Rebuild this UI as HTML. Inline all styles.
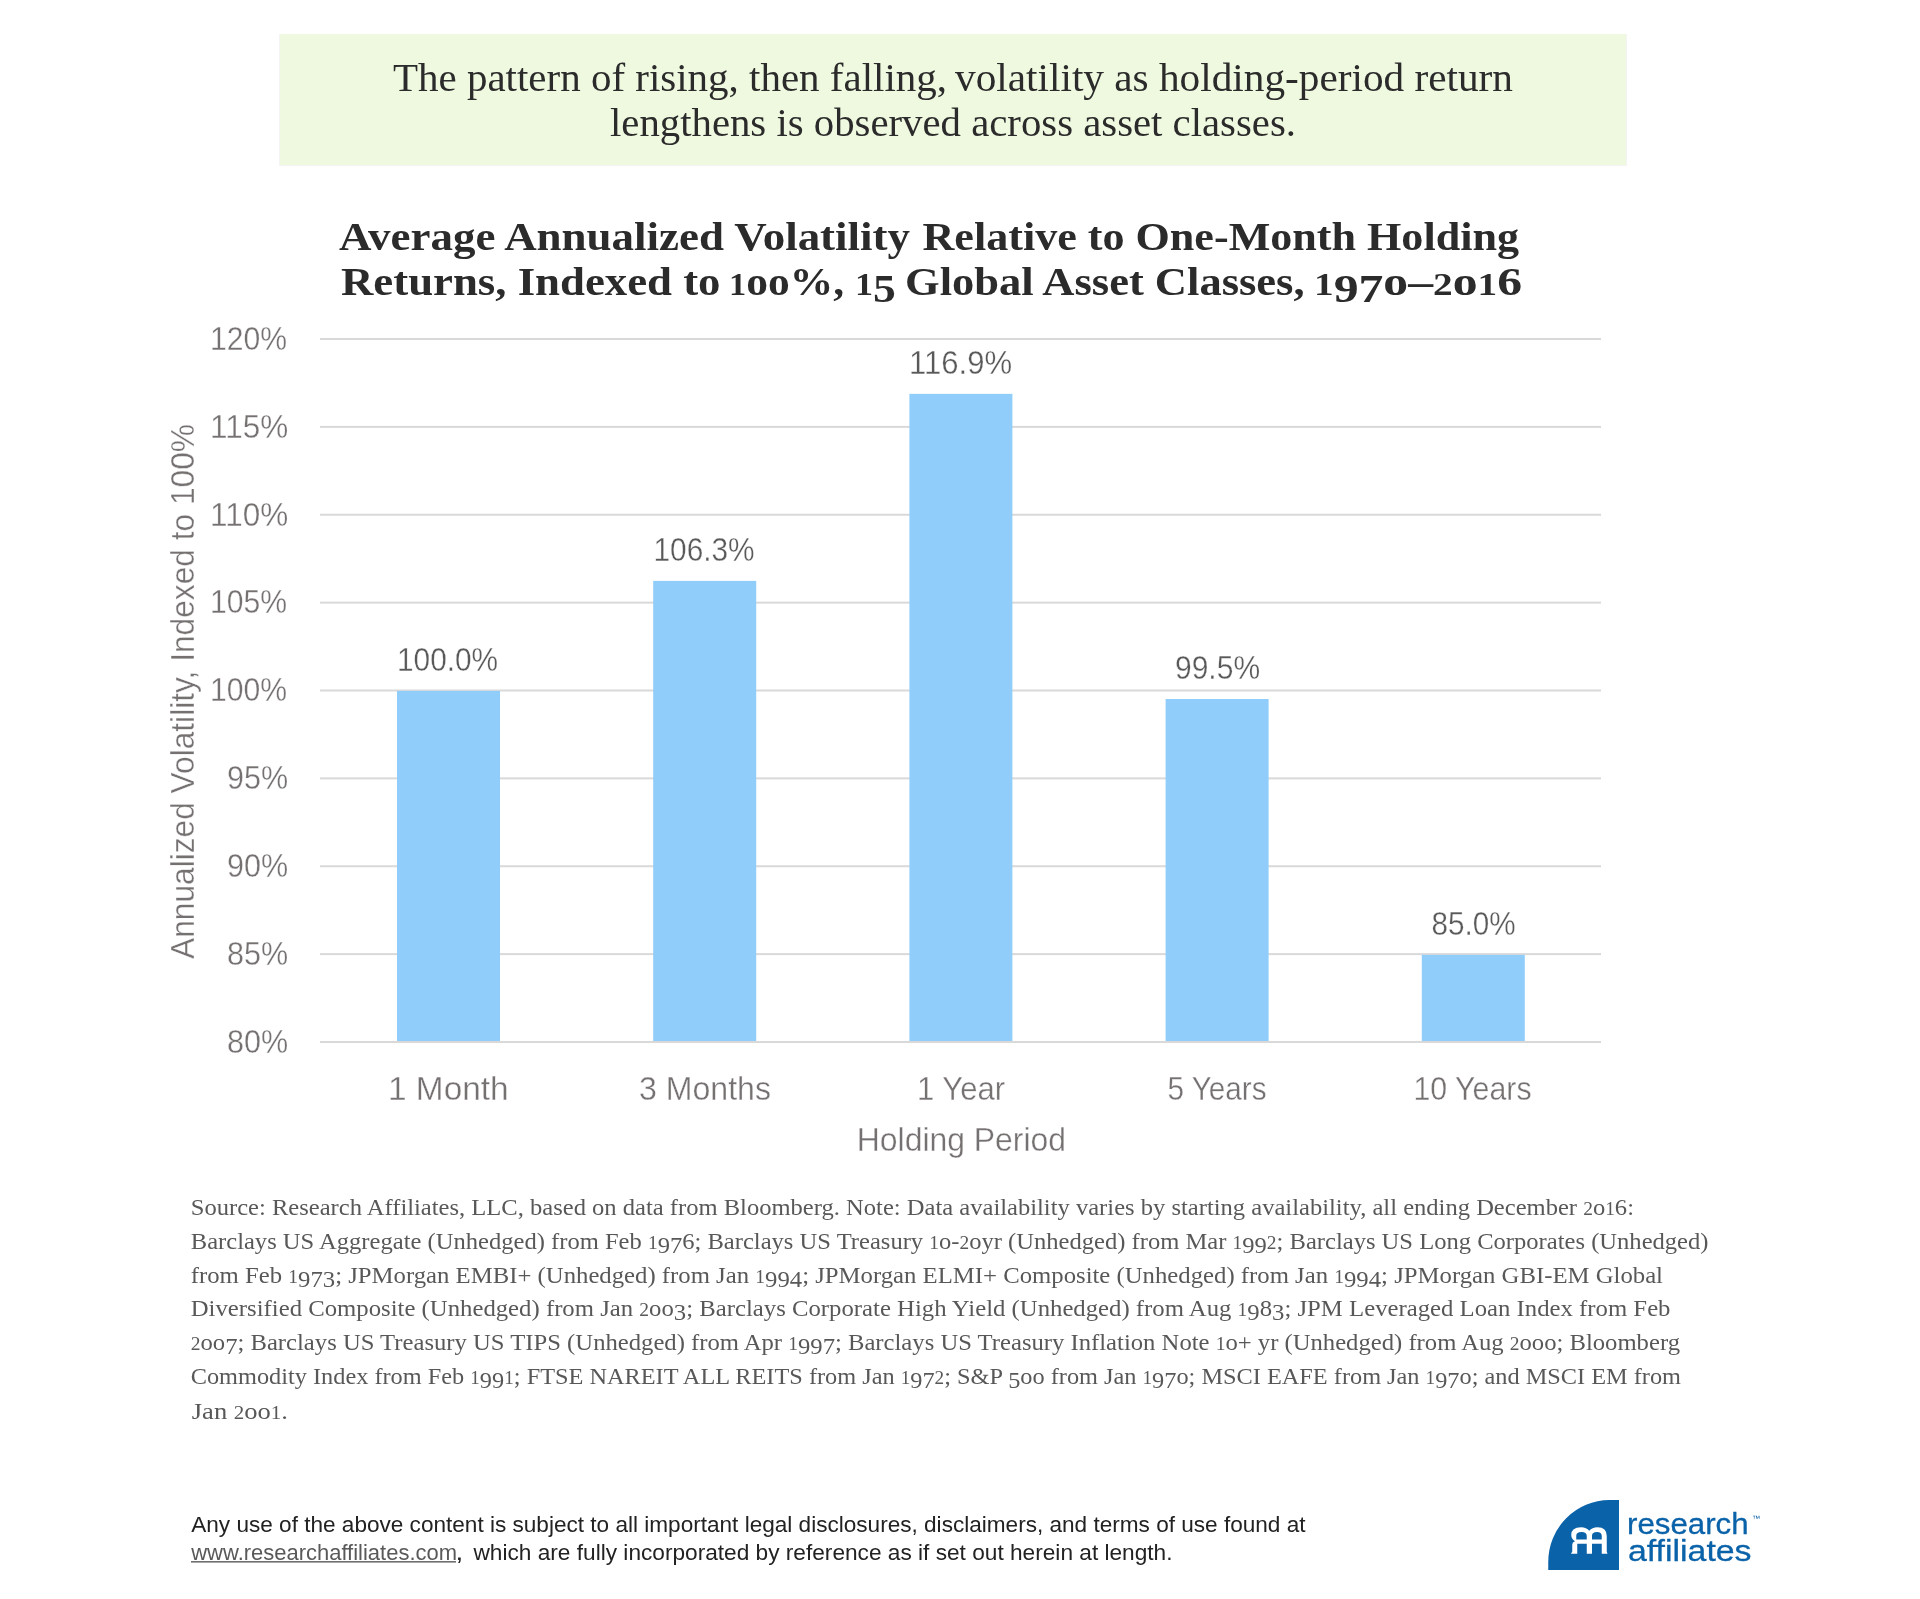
<!DOCTYPE html>
<html><head><meta charset="utf-8"><title>Average Annualized Volatility</title>
<style>html,body{margin:0;padding:0;background:#fff;overflow:hidden}svg{display:block;will-change:transform}</style></head><body>
<svg width="1920" height="1599" viewBox="0 0 1920 1599">
<rect x="0" y="0" width="1920" height="1599" fill="#ffffff"/>
<rect x="279" y="34" width="1348" height="132" fill="#f4f4f4"/>
<rect x="280" y="34" width="1346" height="131" fill="#eff9e0"/>
<rect x="320" y="338.00" width="1281" height="2" fill="#d9d9d9"/>
<rect x="320" y="425.88" width="1281" height="2" fill="#d9d9d9"/>
<rect x="320" y="513.75" width="1281" height="2" fill="#d9d9d9"/>
<rect x="320" y="601.62" width="1281" height="2" fill="#d9d9d9"/>
<rect x="320" y="689.50" width="1281" height="2" fill="#d9d9d9"/>
<rect x="320" y="777.38" width="1281" height="2" fill="#d9d9d9"/>
<rect x="320" y="865.25" width="1281" height="2" fill="#d9d9d9"/>
<rect x="320" y="953.12" width="1281" height="2" fill="#d9d9d9"/>
<rect x="320" y="1041.00" width="1281" height="2" fill="#d9d9d9"/>
<rect x="397.00" y="690.90" width="103" height="350.40" fill="#90cdfb"/>
<rect x="653.20" y="580.90" width="103" height="460.40" fill="#90cdfb"/>
<rect x="909.40" y="393.85" width="103" height="647.45" fill="#90cdfb"/>
<rect x="1165.60" y="699.00" width="103" height="342.30" fill="#90cdfb"/>
<rect x="1421.80" y="954.90" width="103" height="86.40" fill="#90cdfb"/>
<rect x="320" y="1041" width="1281" height="2" fill="#d9d9d9"/>
<text x="393.00" y="91.00" font-family='"Liberation Serif", serif' font-size="39.40" font-weight="normal" fill="#2b2b2b" textLength="554.01" lengthAdjust="spacingAndGlyphs">The pattern of rising, then falling,</text>
<text x="955.00" y="91.00" font-family='"Liberation Serif", serif' font-size="39.40" font-weight="normal" fill="#2b2b2b" textLength="558.00" lengthAdjust="spacingAndGlyphs">volatility as holding-period return</text>
<text x="610.00" y="136.00" font-family='"Liberation Serif", serif' font-size="39.40" font-weight="normal" fill="#2b2b2b" textLength="686.01" lengthAdjust="spacingAndGlyphs">lengthens is observed across asset classes.</text>
<text x="339.00" y="250.00" font-family='"Liberation Serif", serif' font-size="39.70" font-weight="bold" fill="#2b2b2b" textLength="571.00" lengthAdjust="spacingAndGlyphs">Average Annualized Volatility</text>
<text x="922.50" y="250.00" font-family='"Liberation Serif", serif' font-size="39.70" font-weight="bold" fill="#2b2b2b" textLength="596.50" lengthAdjust="spacingAndGlyphs">Relative to One-Month Holding</text>
<text x="341.00" y="295.00" font-family='"Liberation Serif", serif' font-size="39.70" font-weight="bold" fill="#2b2b2b" textLength="379.51" lengthAdjust="spacingAndGlyphs">Returns, Indexed to</text>
<text x="729.00" y="295.00" font-family='"Liberation Serif", serif' font-size="39.70" font-weight="bold" fill="#2b2b2b" textLength="115.12" lengthAdjust="spacingAndGlyphs"><tspan y="295.00" font-size="31.36">1</tspan><tspan y="295.00">oo</tspan><tspan y="295.00">%,</tspan></text>
<text x="855.00" y="295.00" font-family='"Liberation Serif", serif' font-size="39.70" font-weight="bold" fill="#2b2b2b" textLength="40.94" lengthAdjust="spacingAndGlyphs"><tspan y="295.00" font-size="31.36">1</tspan><tspan y="301.75">5</tspan></text>
<text x="905.00" y="295.00" font-family='"Liberation Serif", serif' font-size="39.70" font-weight="bold" fill="#2b2b2b" textLength="399.54" lengthAdjust="spacingAndGlyphs">Global Asset Classes,</text>
<text x="1314.00" y="295.00" font-family='"Liberation Serif", serif' font-size="39.70" font-weight="bold" fill="#2b2b2b" textLength="208.08" lengthAdjust="spacingAndGlyphs"><tspan y="295.00" font-size="31.36">1</tspan><tspan y="301.75">97</tspan><tspan y="295.00">o</tspan><tspan y="295.00">–</tspan><tspan y="295.00" font-size="31.36">2</tspan><tspan y="295.00">o</tspan><tspan y="295.00" font-size="31.36">1</tspan><tspan y="295.00">6</tspan></text>
<text x="210.00" y="350.00" font-family='"Liberation Sans", sans-serif' font-size="33.40" font-weight="normal" fill="#767171" stroke="#fff" stroke-width="0.35" textLength="77.10" lengthAdjust="spacingAndGlyphs">120%</text>
<text x="210.00" y="437.83" font-family='"Liberation Sans", sans-serif' font-size="33.40" font-weight="normal" fill="#767171" stroke="#fff" stroke-width="0.35" textLength="78.13" lengthAdjust="spacingAndGlyphs">115%</text>
<text x="210.00" y="525.66" font-family='"Liberation Sans", sans-serif' font-size="33.40" font-weight="normal" fill="#767171" stroke="#fff" stroke-width="0.35" textLength="78.13" lengthAdjust="spacingAndGlyphs">110%</text>
<text x="210.00" y="613.49" font-family='"Liberation Sans", sans-serif' font-size="33.40" font-weight="normal" fill="#767171" stroke="#fff" stroke-width="0.35" textLength="77.10" lengthAdjust="spacingAndGlyphs">105%</text>
<text x="210.00" y="701.32" font-family='"Liberation Sans", sans-serif' font-size="33.40" font-weight="normal" fill="#767171" stroke="#fff" stroke-width="0.35" textLength="77.10" lengthAdjust="spacingAndGlyphs">100%</text>
<text x="227.00" y="789.15" font-family='"Liberation Sans", sans-serif' font-size="33.40" font-weight="normal" fill="#767171" stroke="#fff" stroke-width="0.35" textLength="61.12" lengthAdjust="spacingAndGlyphs">95%</text>
<text x="227.00" y="876.98" font-family='"Liberation Sans", sans-serif' font-size="33.40" font-weight="normal" fill="#767171" stroke="#fff" stroke-width="0.35" textLength="61.12" lengthAdjust="spacingAndGlyphs">90%</text>
<text x="227.00" y="964.81" font-family='"Liberation Sans", sans-serif' font-size="33.40" font-weight="normal" fill="#767171" stroke="#fff" stroke-width="0.35" textLength="61.08" lengthAdjust="spacingAndGlyphs">85%</text>
<text x="227.00" y="1052.64" font-family='"Liberation Sans", sans-serif' font-size="33.40" font-weight="normal" fill="#767171" stroke="#fff" stroke-width="0.35" textLength="61.08" lengthAdjust="spacingAndGlyphs">80%</text>
<text x="397.00" y="670.60" font-family='"Liberation Sans", sans-serif' font-size="33.40" font-weight="normal" fill="#595959" stroke="#fff" stroke-width="0.35" textLength="101.07" lengthAdjust="spacingAndGlyphs">100.0%</text>
<text x="653.50" y="560.80" font-family='"Liberation Sans", sans-serif' font-size="33.40" font-weight="normal" fill="#595959" stroke="#fff" stroke-width="0.35" textLength="101.08" lengthAdjust="spacingAndGlyphs">106.3%</text>
<text x="909.00" y="373.75" font-family='"Liberation Sans", sans-serif' font-size="33.40" font-weight="normal" fill="#595959" stroke="#fff" stroke-width="0.35" textLength="103.09" lengthAdjust="spacingAndGlyphs">116.9%</text>
<text x="1175.00" y="678.75" font-family='"Liberation Sans", sans-serif' font-size="33.40" font-weight="normal" fill="#595959" stroke="#fff" stroke-width="0.35" textLength="85.08" lengthAdjust="spacingAndGlyphs">99.5%</text>
<text x="1431.50" y="934.70" font-family='"Liberation Sans", sans-serif' font-size="33.40" font-weight="normal" fill="#595959" stroke="#fff" stroke-width="0.35" textLength="84.02" lengthAdjust="spacingAndGlyphs">85.0%</text>
<text x="388.00" y="1100.00" font-family='"Liberation Sans", sans-serif' font-size="33.40" font-weight="normal" fill="#767171" stroke="#fff" stroke-width="0.35" textLength="120.63" lengthAdjust="spacingAndGlyphs">1 Month</text>
<text x="639.00" y="1100.00" font-family='"Liberation Sans", sans-serif' font-size="33.40" font-weight="normal" fill="#767171" stroke="#fff" stroke-width="0.35" textLength="132.03" lengthAdjust="spacingAndGlyphs">3 Months</text>
<text x="917.00" y="1100.00" font-family='"Liberation Sans", sans-serif' font-size="33.40" font-weight="normal" fill="#767171" stroke="#fff" stroke-width="0.35" textLength="88.05" lengthAdjust="spacingAndGlyphs">1 Year</text>
<text x="1167.50" y="1100.00" font-family='"Liberation Sans", sans-serif' font-size="33.40" font-weight="normal" fill="#767171" stroke="#fff" stroke-width="0.35" textLength="99.03" lengthAdjust="spacingAndGlyphs">5 Years</text>
<text x="1413.50" y="1100.00" font-family='"Liberation Sans", sans-serif' font-size="33.40" font-weight="normal" fill="#767171" stroke="#fff" stroke-width="0.35" textLength="118.06" lengthAdjust="spacingAndGlyphs">10 Years</text>
<text x="856.75" y="1151.00" font-family='"Liberation Sans", sans-serif' font-size="33.40" font-weight="normal" fill="#767171" stroke="#fff" stroke-width="0.35" textLength="209.32" lengthAdjust="spacingAndGlyphs">Holding Period</text>
<text x="190.75" y="1215.00" font-family='"Liberation Serif", serif' font-size="23.70" font-weight="normal" fill="#585858" textLength="1443.26" lengthAdjust="spacingAndGlyphs"><tspan y="1215.00">Source: Research Affiliates, LLC, based on data from Bloomberg. Note: Data availability varies by starting availability, all ending December </tspan><tspan y="1215.00" font-size="18.72">2</tspan><tspan y="1215.00">o</tspan><tspan y="1215.00" font-size="18.72">1</tspan><tspan y="1215.00">6:</tspan></text>
<text x="190.75" y="1248.50" font-family='"Liberation Serif", serif' font-size="23.70" font-weight="normal" fill="#585858" textLength="1517.75" lengthAdjust="spacingAndGlyphs"><tspan y="1248.50">Barclays US Aggregate (Unhedged) from Feb </tspan><tspan y="1248.50" font-size="18.72">1</tspan><tspan y="1252.53">97</tspan><tspan y="1248.50">6; Barclays US Treasury </tspan><tspan y="1248.50" font-size="18.72">1</tspan><tspan y="1248.50">o</tspan><tspan y="1248.50">-</tspan><tspan y="1248.50" font-size="18.72">2</tspan><tspan y="1248.50">o</tspan><tspan y="1248.50">yr (Unhedged) from Mar </tspan><tspan y="1248.50" font-size="18.72">1</tspan><tspan y="1252.53">99</tspan><tspan y="1248.50" font-size="18.72">2</tspan><tspan y="1248.50">; Barclays US Long Corporates (Unhedged)</tspan></text>
<text x="190.75" y="1282.50" font-family='"Liberation Serif", serif' font-size="23.70" font-weight="normal" fill="#585858" textLength="1472.25" lengthAdjust="spacingAndGlyphs"><tspan y="1282.50">from Feb </tspan><tspan y="1282.50" font-size="18.72">1</tspan><tspan y="1286.53">973</tspan><tspan y="1282.50">; JPMorgan EMBI+ (Unhedged) from Jan </tspan><tspan y="1282.50" font-size="18.72">1</tspan><tspan y="1286.53">994</tspan><tspan y="1282.50">; JPMorgan ELMI+ Composite (Unhedged) from Jan </tspan><tspan y="1282.50" font-size="18.72">1</tspan><tspan y="1286.53">994</tspan><tspan y="1282.50">; JPMorgan GBI-EM Global</tspan></text>
<text x="190.75" y="1316.00" font-family='"Liberation Serif", serif' font-size="23.70" font-weight="normal" fill="#585858" textLength="1479.75" lengthAdjust="spacingAndGlyphs"><tspan y="1316.00">Diversified Composite (Unhedged) from Jan </tspan><tspan y="1316.00" font-size="18.72">2</tspan><tspan y="1316.00">oo</tspan><tspan y="1320.03">3</tspan><tspan y="1316.00">; Barclays Corporate High Yield (Unhedged) from Aug </tspan><tspan y="1316.00" font-size="18.72">1</tspan><tspan y="1320.03">9</tspan><tspan y="1316.00">8</tspan><tspan y="1320.03">3</tspan><tspan y="1316.00">; JPM Leveraged Loan Index from Feb</tspan></text>
<text x="190.75" y="1350.00" font-family='"Liberation Serif", serif' font-size="23.70" font-weight="normal" fill="#585858" textLength="1489.25" lengthAdjust="spacingAndGlyphs"><tspan y="1350.00" font-size="18.72">2</tspan><tspan y="1350.00">oo</tspan><tspan y="1354.03">7</tspan><tspan y="1350.00">; Barclays US Treasury US TIPS (Unhedged) from Apr </tspan><tspan y="1350.00" font-size="18.72">1</tspan><tspan y="1354.03">997</tspan><tspan y="1350.00">; Barclays US Treasury Inflation Note </tspan><tspan y="1350.00" font-size="18.72">1</tspan><tspan y="1350.00">o</tspan><tspan y="1350.00">+ yr (Unhedged) from Aug </tspan><tspan y="1350.00" font-size="18.72">2</tspan><tspan y="1350.00">ooo</tspan><tspan y="1350.00">; Bloomberg</tspan></text>
<text x="190.75" y="1384.00" font-family='"Liberation Serif", serif' font-size="23.70" font-weight="normal" fill="#585858" textLength="1490.25" lengthAdjust="spacingAndGlyphs"><tspan y="1384.00">Commodity Index from Feb </tspan><tspan y="1384.00" font-size="18.72">1</tspan><tspan y="1388.03">99</tspan><tspan y="1384.00" font-size="18.72">1</tspan><tspan y="1384.00">; FTSE NAREIT ALL REITS from Jan </tspan><tspan y="1384.00" font-size="18.72">1</tspan><tspan y="1388.03">97</tspan><tspan y="1384.00" font-size="18.72">2</tspan><tspan y="1384.00">; S&amp;P </tspan><tspan y="1388.03">5</tspan><tspan y="1384.00">oo</tspan><tspan y="1384.00"> from Jan </tspan><tspan y="1384.00" font-size="18.72">1</tspan><tspan y="1388.03">97</tspan><tspan y="1384.00">o</tspan><tspan y="1384.00">; MSCI EAFE from Jan </tspan><tspan y="1384.00" font-size="18.72">1</tspan><tspan y="1388.03">97</tspan><tspan y="1384.00">o</tspan><tspan y="1384.00">; and MSCI EM from</tspan></text>
<text x="191.75" y="1418.50" font-family='"Liberation Serif", serif' font-size="23.70" font-weight="normal" fill="#585858" textLength="96.28" lengthAdjust="spacingAndGlyphs"><tspan y="1418.50">Jan </tspan><tspan y="1418.50" font-size="18.72">2</tspan><tspan y="1418.50">oo</tspan><tspan y="1418.50" font-size="18.72">1</tspan><tspan y="1418.50">.</tspan></text>
<text x="191.25" y="1532.00" font-family='"Liberation Sans", sans-serif' font-size="21.80" font-weight="normal" fill="#222222" textLength="1114.25" lengthAdjust="spacingAndGlyphs">Any use of the above content is subject to all important legal disclosures, disclaimers, and terms of use found at</text>
<text x="191.25" y="1560.00" font-family='"Liberation Sans", sans-serif' font-size="21.80" font-weight="normal" fill="#595959" textLength="265.75" lengthAdjust="spacingAndGlyphs">www.researchaffiliates.com</text>
<text x="455.50" y="1560.00" font-family='"Liberation Sans", sans-serif' font-size="21.80" font-weight="normal" fill="#222222" textLength="7.72" lengthAdjust="spacingAndGlyphs">,</text>
<text x="473.50" y="1560.00" font-family='"Liberation Sans", sans-serif' font-size="21.80" font-weight="normal" fill="#222222" textLength="699.00" lengthAdjust="spacingAndGlyphs">which are fully incorporated by reference as if set out herein at length.</text>
<text x="1627.00" y="1534.20" font-family='"Liberation Sans", sans-serif' font-size="30.00" font-weight="normal" fill="#0a62a9" stroke="#0a62a9" stroke-width="0.3" textLength="121.60" lengthAdjust="spacingAndGlyphs">research</text>
<text x="1628.00" y="1561.20" font-family='"Liberation Sans", sans-serif' font-size="30.00" font-weight="normal" fill="#0a62a9" stroke="#0a62a9" stroke-width="0.3" textLength="123.53" lengthAdjust="spacingAndGlyphs">affiliates</text>
<text transform="translate(194.00,959.00) rotate(-90)" x="0" y="0" font-family='"Liberation Sans", sans-serif' font-size="33.4" fill="#767171" stroke="#fff" stroke-width="0.35" textLength="535.00" lengthAdjust="spacingAndGlyphs">Annualized Volatility, Indexed to 100%</text>
<rect x="191" y="1561" width="265" height="1.6" fill="#6e6e6e"/>
<path d="M1548.25,1570 L1548.25,1562 A61.25,62 0 0 1 1609.5,1500 L1619,1500 L1619,1570 Z" fill="#0a62a9"/>
<g transform="translate(1545,1495) scale(0.05)"><path fill="#ffffff" fill-rule="evenodd" d="M520 1175 L545 1130 L545 990 Q545 940 600 925 Q525 880 525 800 Q525 645 720 645 Q830 645 885 715 Q940 645 1050 645 Q1235 645 1235 820 L1235 1130 L1250 1175 L1135 1175 L1135 975 L940 975 L940 1175 L835 1175 L835 975 L645 975 L645 1175 Z M625 890 L835 890 L835 820 Q835 740 730 740 Q625 740 625 815 Z M940 890 L1135 890 L1135 820 Q1135 740 1040 740 Q940 740 940 815 Z"/></g>
<text x="1752" y="1521" font-family='"Liberation Sans", sans-serif' font-size="8" fill="#0a62a9">™</text>
</svg>
</body></html>
